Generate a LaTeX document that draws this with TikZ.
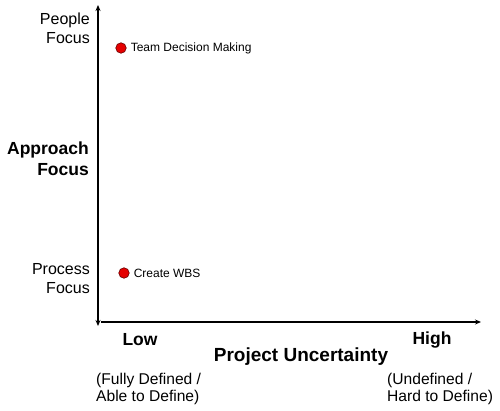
\documentclass[tikz,border=0pt]{standalone}
\usepackage{fontspec}
\setmainfont{Liberation Sans}
\usetikzlibrary{arrows.meta, positioning}

\begin{document}
\begin{tikzpicture}[
        x=1pt, y=-1pt,
        axis/.style={draw=black, line width=1.1pt},
        dot/.style={circle, draw=red!40!black, fill=red!90!black, line width=0.6pt, inner sep=0pt, minimum size=10.5pt},
        dotlabel/.style={right=3pt of #1, inner sep=1pt, font=\fontsize{12}{14}\selectfont},
        focus/.style={anchor=east, align=right, inner sep=0pt, font=\fontsize{16}{19}\selectfont},
        level/.style={inner sep=0pt, font=\bfseries\fontsize{17.5}{20}\selectfont},
        note/.style={anchor=west, align=left, inner sep=0pt, font=\fontsize{15.6}{17}\selectfont}
    ]
        \useasboundingbox (0,0) rectangle (500,410);

        % axes
        \coordinate (origin) at (98,322);
        \coordinate (ytop) at (98,5);
        \coordinate (ybottom) at (98,326);
        \coordinate (xstart) at (101,322);
        \coordinate (xend) at (481,322);
        \draw[axis, {Stealth[length=6pt, width=5pt]}-{Stealth[length=6pt, width=5pt]}] (ybottom) -- (ytop);
        \draw[axis, -{Stealth[length=6pt, width=5pt]}] (xstart) -- (xend);

        % vertical axis labels
        \node[focus] (people) at (90,28) {People\\Focus};
        \node[focus, font=\bfseries\fontsize{17.5}{21}\selectfont] (approach) at (89,159) {Approach\\Focus};
        \node[focus] (process) at (90,279) {Process\\Focus};

        % horizontal axis labels
        \node[level] (low) at (140,340) {Low};
        \node[level] (high) at (432,340) {High};
        \node[level, font=\bfseries\fontsize{19}{21}\selectfont] (uncertainty) at (301,357) {Project Uncertainty};
        \node[note] (lownote) at (96,389) {(Fully Defined /\\Able to Define)};
        \node[note] (highnote) at (387,389) {(Undefined /\\Hard to Define)};

        % activities
        \node[dot] (team) at (121,48) {};
        \node[dotlabel=team] (teamlabel) {Team Decision Making};
        \node[dot] (wbs) at (124,273) {};
        \node[dotlabel=wbs] (wbslabel) {Create WBS};
    \end{tikzpicture}
\end{document}
